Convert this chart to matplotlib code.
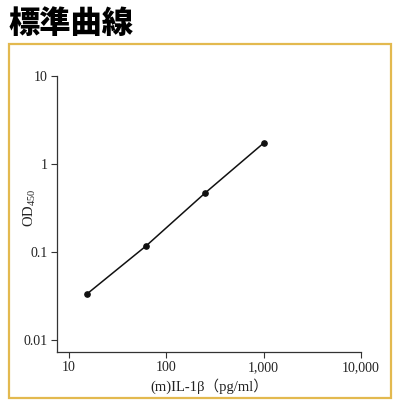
import matplotlib
matplotlib.use("Agg")
import matplotlib.pyplot as plt
from matplotlib.patches import Rectangle
from matplotlib.ticker import FixedLocator, FixedFormatter, NullLocator

# standard curve data
conc = [15.625, 62.5, 250, 1000]
od = [0.034, 0.118, 0.466, 1.72]

xticks = [10, 100, 1000, 10000]
xticklabels = ["10", "100", "1,000", "10,000"]
yticks = [0.01, 0.1, 1, 10]
yticklabels = ["0.01", "0.1", "1", "10"]

title = "標準曲線"
xlabel = "(m)IL-1β（pg/ml）"
ylabel = "OD$_{450}$"

plt.rcParams["mathtext.fontset"] = "custom"
plt.rcParams["mathtext.rm"] = "Liberation Serif"
serif = ["Liberation Serif", "Noto Sans CJK JP"]

fig = plt.figure(figsize=(4.0, 4.07), dpi=100)

# gold frame
fig.patches.append(Rectangle((9 / 400, 1 - 398 / 407), 382 / 400, 354 / 407,
                             transform=fig.transFigure, fill=False,
                             edgecolor="#e3b94f", linewidth=1.6))

fig.text(9 / 400, 1 - 24 / 407, title, fontsize=22.5, fontweight="black",
         family="Noto Sans CJK JP", va="center", ha="left", color="#000000")

ax = fig.add_axes([57.5 / 400, 1 - 351.5 / 407, (361 - 57.5) / 400, (351.5 - 75.7) / 407])
ax.plot(conc, od, color="#111111", lw=1.1, marker="o", ms=3.8)
ax.set_xscale("log")
ax.set_yscale("log")
ax.set_xlim(7.7, 10000)
ax.set_ylim(0.0075, 10)

ax.xaxis.set_major_locator(FixedLocator(xticks))
ax.xaxis.set_major_formatter(FixedFormatter(xticklabels))
ax.yaxis.set_major_locator(FixedLocator(yticks))
ax.yaxis.set_major_formatter(FixedFormatter(yticklabels))
ax.xaxis.set_minor_locator(NullLocator())
ax.yaxis.set_minor_locator(NullLocator())

for s in ["top", "right"]:
    ax.spines[s].set_visible(False)
for s in ["left", "bottom"]:
    ax.spines[s].set_color("#333333")
    ax.spines[s].set_linewidth(0.9)

ax.tick_params(direction="out", length=4, width=0.8, color="#333333",
               labelsize=10, pad=3)
for lab in ax.get_xticklabels() + ax.get_yticklabels():
    lab.set_family(serif)
    lab.set_color("#222222")

ax.set_xlabel(xlabel, family=serif, fontsize=10.5, color="#222222", labelpad=3)
fig.text(30 / 400, 1 - 208 / 407, ylabel, rotation=90, ha="center", va="center",
         family=serif, fontsize=10.5, color="#222222")

fig.savefig("out.png", dpi=100)
